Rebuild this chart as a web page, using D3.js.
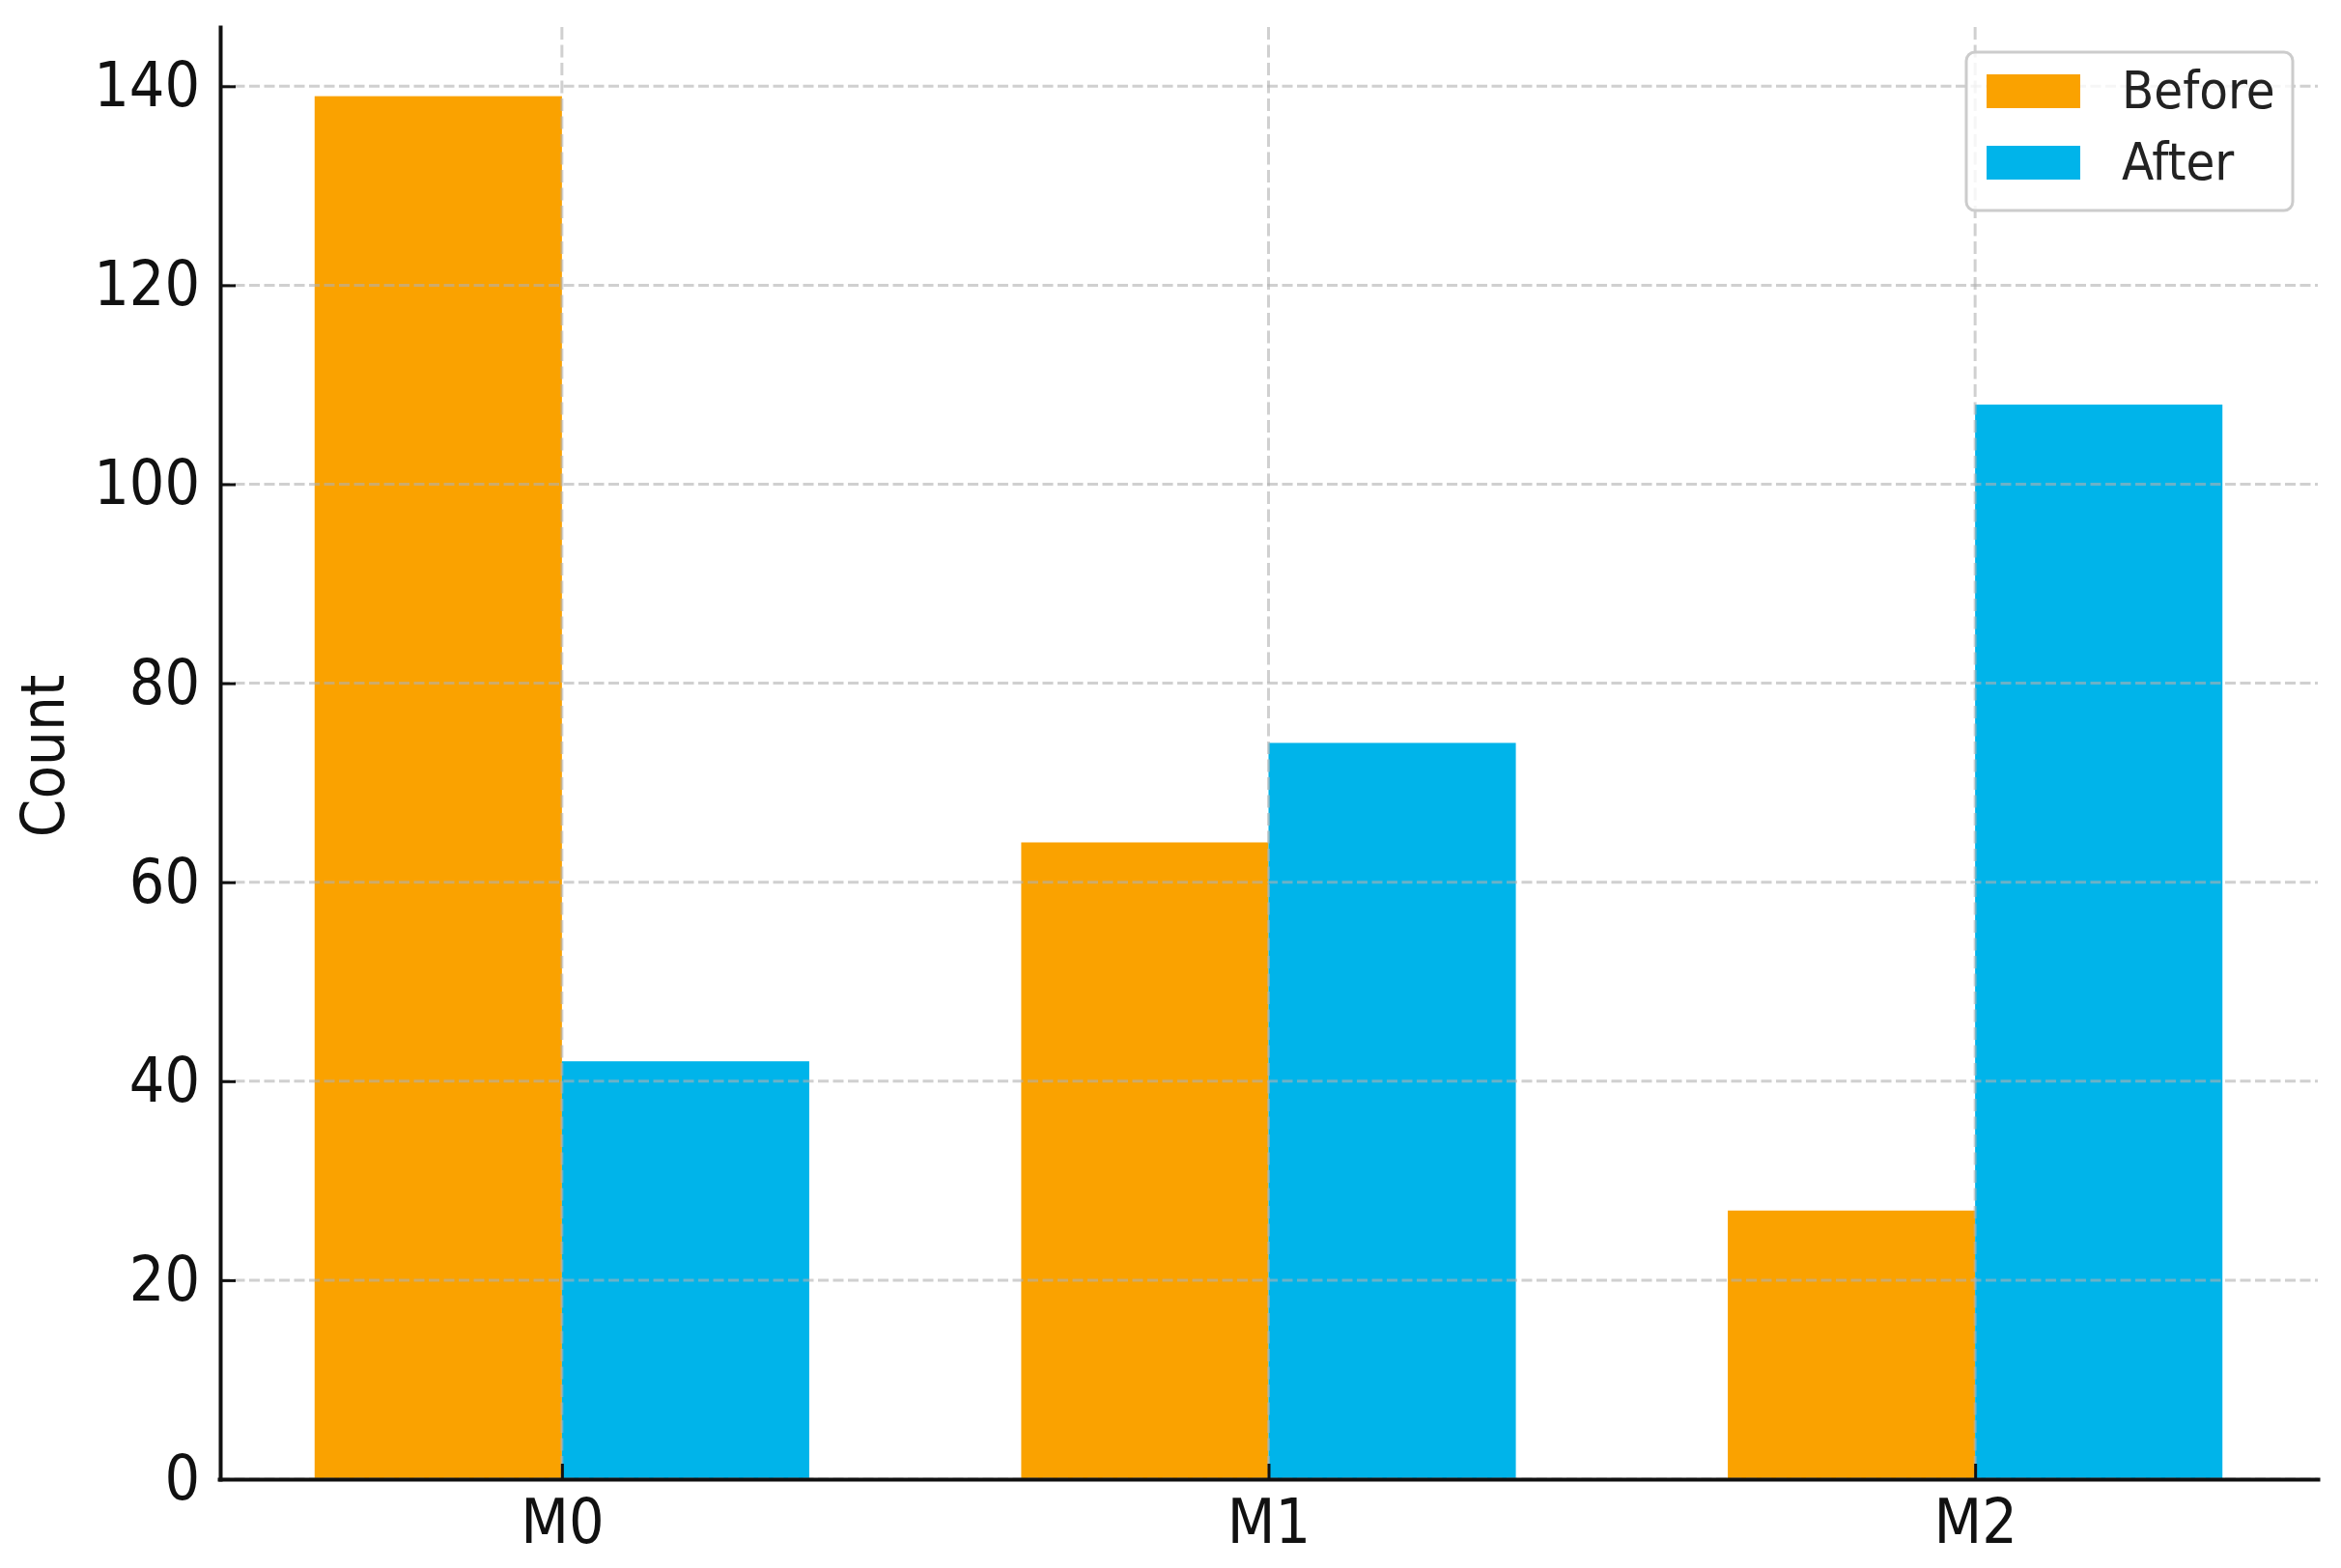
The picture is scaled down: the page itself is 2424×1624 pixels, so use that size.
<!DOCTYPE html>
<html>
<head>
<meta charset="utf-8">
<script src="https://cdn.jsdelivr.net/npm/d3@7"></script>
<style>
  html, body { margin: 0; padding: 0; background: #ffffff; }
  svg { display: block; }
  text { font-family: "DejaVu Sans Condensed", "DejaVu Sans", sans-serif; font-stretch: condensed; }
</style>
</head>
<body>
<svg id="chart" width="2424" height="1624"></svg>
<script>
// ---- data ----
const categories = ["M0", "M1", "M2"];
const beforeValues = [139, 64, 27];
const afterValues = [42, 74, 108];
const seriesNames = ["Before", "After"];
const seriesColors = ["#FAA200", "#00B4EA"];
const yTickValues = [0, 20, 40, 60, 80, 100, 120, 140];
const yLabel = "Count";

// ---- layout ----
const W = 2424, H = 1624;
const plot = { left: 227, right: 2400, top: 28, bottom: 1532 };
const barWidth = 0.35;
const yMax = 145.95;

const svg = d3.select("#chart");
svg.append("rect").attr("width", W).attr("height", H).attr("fill", "#ffffff");

const x = d3.scaleLinear().domain([-0.485, categories.length - 1 + 0.485]).range([plot.left, plot.right]);
const y = d3.scaleLinear().domain([0, yMax]).range([plot.bottom, plot.top]);

const series = [beforeValues, afterValues];

// bars
const gBars = svg.append("g");
series.forEach((vals, si) => {
  gBars.selectAll(null)
    .data(vals.map((v, i) => ({ v, i })))
    .enter().append("rect")
    .attr("x", d => x(d.i + (si === 0 ? -barWidth : 0)))
    .attr("width", x(barWidth) - x(0))
    .attr("y", d => y(d.v))
    .attr("height", d => y(0) - y(d.v))
    .attr("fill", seriesColors[si]);
});

// grid (drawn over bars, semi-transparent)
const gGrid = svg.append("g").attr("stroke", "#b0b0b0").attr("stroke-opacity", 0.6).attr("stroke-width", 3);
gGrid.selectAll(null).data(yTickValues).enter().append("line")
  .attr("x1", plot.left).attr("x2", plot.right)
  .attr("y1", d => y(d)).attr("y2", d => y(d))
  .attr("stroke-dasharray", "11,4.5");
gGrid.selectAll(null).data(categories.map((c, i) => i)).enter().append("line")
  .attr("x1", d => x(d)).attr("x2", d => x(d))
  .attr("y1", plot.top).attr("y2", plot.bottom)
  .attr("stroke-dasharray", "13,5.5");

// axes
const yAxis = d3.axisLeft(y).tickValues(yTickValues).tickSizeInner(-16).tickSizeOuter(0).tickPadding(21);
const gy = svg.append("g").attr("transform", `translate(${plot.left + 1},0)`).call(yAxis);
const xAxis = d3.axisBottom(x).tickValues(categories.map((c, i) => i)).tickFormat(i => categories[i])
  .tickSizeInner(-16).tickSizeOuter(0).tickPadding(21);
const gx = svg.append("g").attr("transform", `translate(0,${plot.bottom})`).call(xAxis);

[gx, gy].forEach(g => {
  g.select(".domain").attr("stroke", "#111").attr("stroke-width", 4).attr("stroke-linecap", "square");
  g.selectAll(".tick line").attr("stroke", "#111").attr("stroke-width", 3);
  g.selectAll(".tick text").attr("fill", "#111").attr("font-size", 64)
    .style("font-family", '"DejaVu Sans Condensed", "DejaVu Sans", sans-serif');
});

// y label
svg.append("text")
  .attr("transform", `translate(66,${(plot.top + plot.bottom) / 2 + 3}) rotate(-90)`)
  .attr("text-anchor", "middle")
  .attr("font-size", 63)
  .attr("fill", "#111")
  .text(yLabel);

// legend
const lg = svg.append("g");
lg.append("rect")
  .attr("x", 2036).attr("y", 54).attr("width", 338).attr("height", 164)
  .attr("rx", 9).attr("ry", 9)
  .attr("fill", "#ffffff").attr("fill-opacity", 0.8)
  .attr("stroke", "#cccccc").attr("stroke-width", 3);
seriesNames.forEach((name, i) => {
  const yy = 77 + i * 74;
  lg.append("rect").attr("x", 2057).attr("y", yy).attr("width", 97).attr("height", 35).attr("fill", seriesColors[i]);
  lg.append("text").attr("x", 2197).attr("y", yy + 35).attr("font-size", 54).attr("fill", "#222").text(name);
});
</script>
</body>
</html>
